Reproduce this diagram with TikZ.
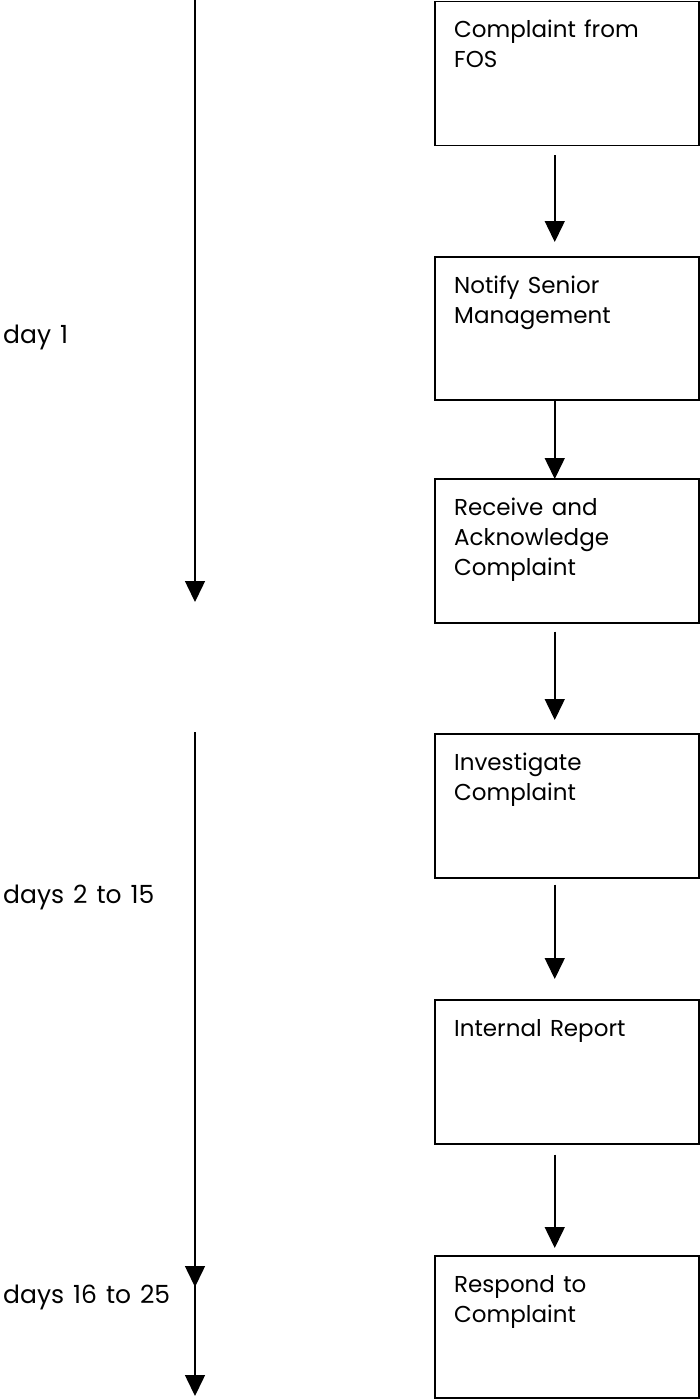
\documentclass[tikz,border=0pt]{standalone}
\usepackage{fontspec}
\setmainfont{Poppins}
\usetikzlibrary{arrows.meta}
\newcommand{\lblfont}{\fontsize{25}{30}\selectfont\spaceskip=0.36em\relax}
\newcommand{\boxfont}{\fontsize{23}{30}\selectfont\spaceskip=0.36em\relax}
\begin{document}
\begin{tikzpicture}[x=1pt,y=-1pt,
  box/.style={draw, line width=1.5pt, minimum width=264pt, inner sep=0pt, anchor=north west},
  txt/.style={anchor=base west, inner sep=0pt, align=left, font=\boxfont},
  arr/.style={line width=1.5pt, -{Triangle[width=20pt,length=21pt]}},
  lbl/.style={anchor=base west, inner sep=0pt, font=\lblfont}]
\useasboundingbox (0,0) rectangle (699,1399);
% boxes
\node[box, minimum height=144pt] (b1) at (434,1) {};
\node[box, minimum height=143pt] (b2) at (434,256) {};
\node[box, minimum height=144pt] (b3) at (434,478) {};
\node[box, minimum height=144pt] (b4) at (434,733) {};
\node[box, minimum height=144pt] (b5) at (434,999) {};
\node[box, minimum height=142pt] (b6) at (434,1255) {};
% box texts (base anchor = last line's baseline)
\node[txt] (t1) at ([xshift=20pt,yshift=-67pt]b1.north west) {Complaint from\\FOS};
\node[txt] (t2) at ([xshift=20pt,yshift=-67pt]b2.north west) {Notify Senior\\Management};
\node[txt] (t3) at ([xshift=20pt,yshift=-97pt]b3.north west) {Receive and\\Acknowledge\\Complaint};
\node[txt] (t4) at ([xshift=20pt,yshift=-67pt]b4.north west) {Investigate\\Complaint};
\node[txt] (t5) at ([xshift=20pt,yshift=-37pt]b5.north west) {Internal Report};
\node[txt] (t6) at ([xshift=20pt,yshift=-67pt]b6.north west) {Respond to\\Complaint};
% flow arrows
\draw[arr] ([xshift=-12pt,yshift=-9pt]b1.south) -- ([xshift=-12pt,yshift=14pt]b2.north);
\draw[arr] ([xshift=-12pt]b2.south) -- ([xshift=-12pt,yshift=-1pt]b3.north);
\draw[arr] ([xshift=-12pt,yshift=-8pt]b3.south) -- ([xshift=-12pt,yshift=13pt]b4.north);
\draw[arr] ([xshift=-12pt,yshift=-6pt]b4.south) -- ([xshift=-12pt,yshift=20pt]b5.north);
\draw[arr] ([xshift=-12pt,yshift=-10pt]b5.south) -- ([xshift=-12pt,yshift=7pt]b6.north);
% time line
\coordinate (a1s) at (195,0);
\coordinate (a1e) at (195,602);
\coordinate (a2s) at (195,732);
\coordinate (a2e) at (195,1287);
\coordinate (a3s) at (195,1228);
\coordinate (a3e) at (195,1396);
\draw[arr] (a1s) -- (a1e);
\draw[arr] (a2s) -- (a2e);
\draw[arr] (a3s) -- (a3e);
\node[lbl] (l1) at (3,343) {day 1};
\node[lbl] (l2) at (3,903) {days 2 to 15};
\node[lbl] (l3) at (3,1303) {days 16 to 25};
\end{tikzpicture}
\end{document}
